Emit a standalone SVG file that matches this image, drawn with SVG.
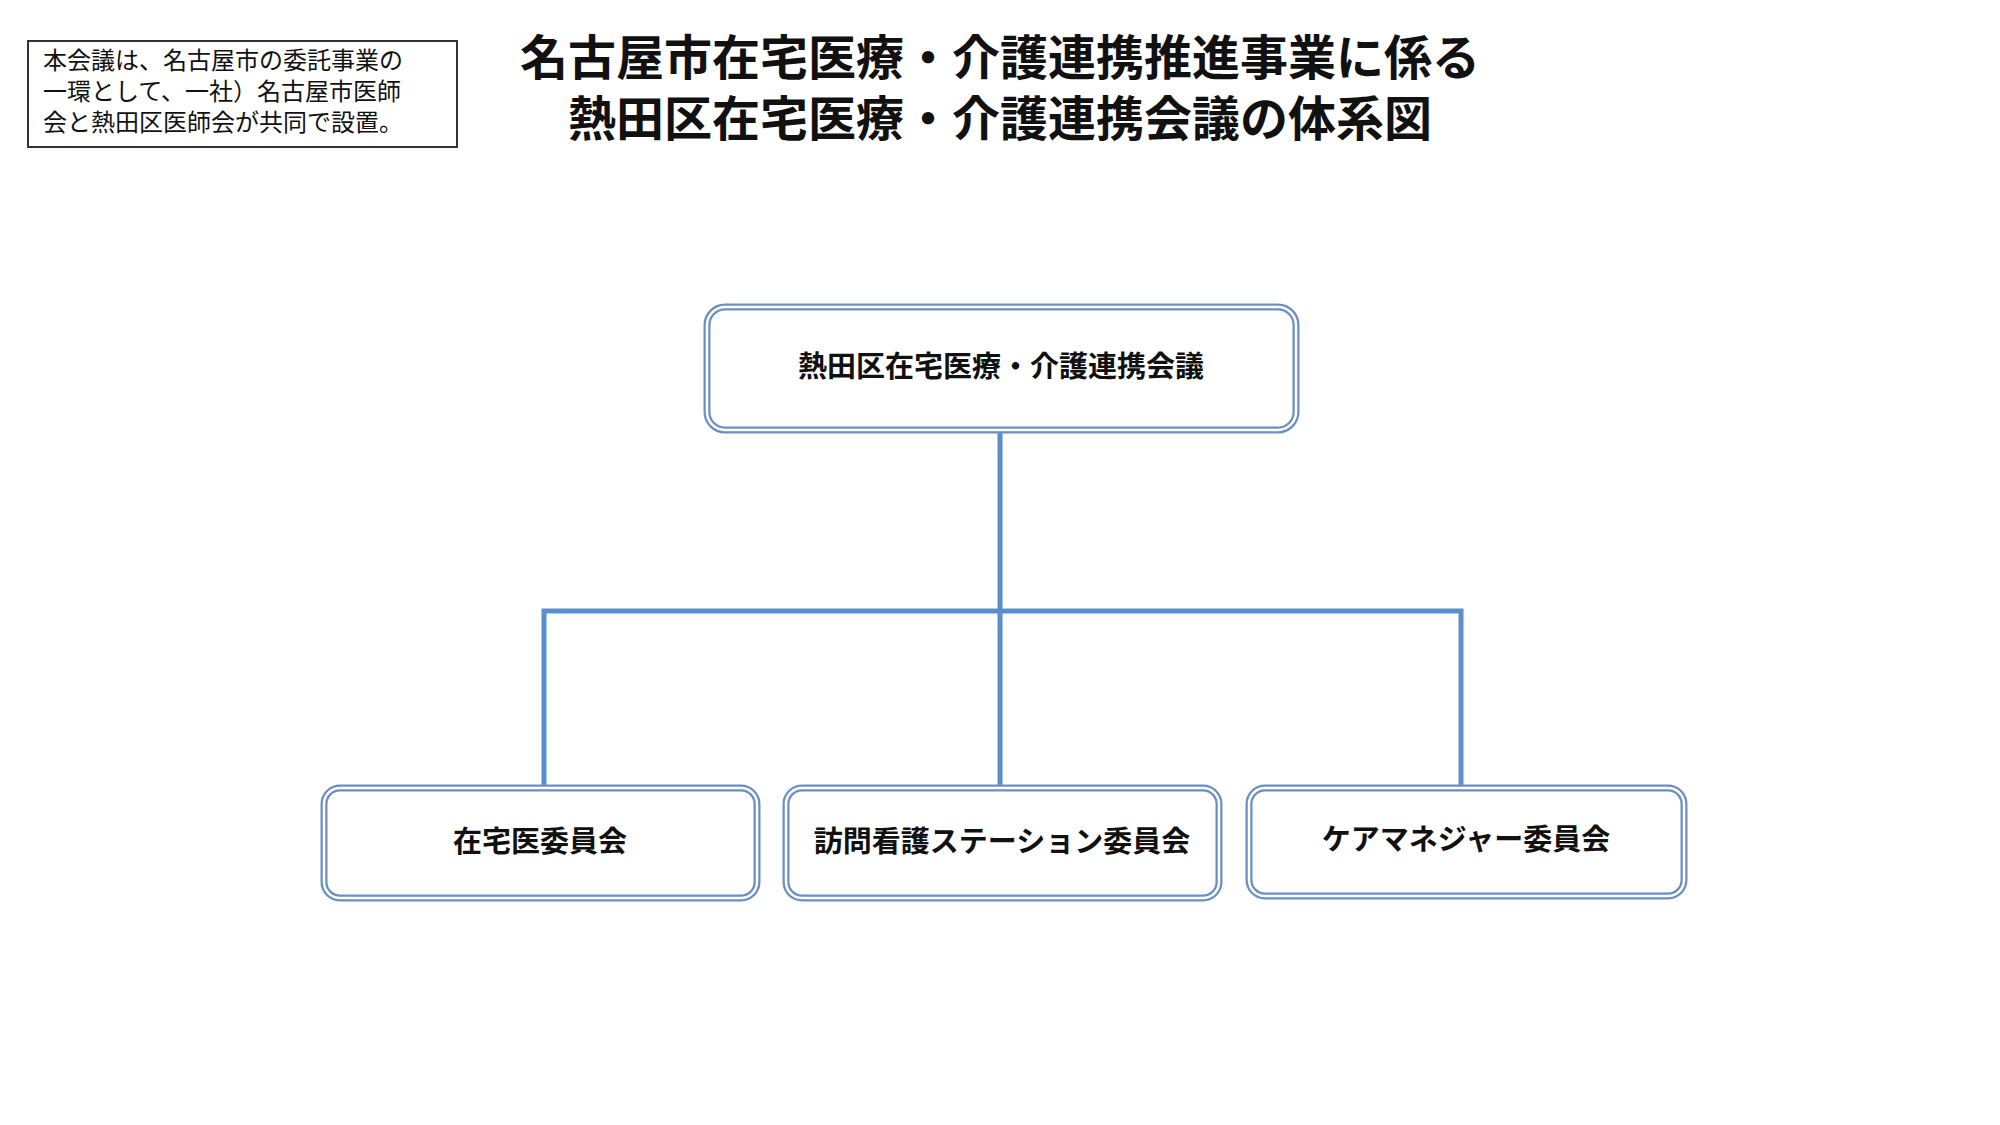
<svg xmlns="http://www.w3.org/2000/svg" width="2000" height="1125" viewBox="0 0 2000 1125">
<style>
.t{font-family:"Noto Sans CJK JP","Noto Sans CJK SC",sans-serif;fill:#111}
.n{font-size:29px;font-weight:bold;text-anchor:middle}
.o{fill:#fff;stroke:#6a8fc4;stroke-width:7}
.i{fill:none;stroke:#fff;stroke-width:2.5}
.c{fill:none;stroke:#5b8ecb;stroke-width:5}
</style>
<rect width="2000" height="1125" fill="#fff"/>
<g id="note"><rect x="28" y="41" width="429" height="106" fill="#fff" stroke="#333" stroke-width="2"/>
<text class="t" font-size="24"><tspan x="43" y="69">本会議は、名古屋市の委託事業の</tspan><tspan x="43" y="100">一環として、一社）名古屋市医師</tspan><tspan x="43" y="131">会と熱田区医師会が共同で設置。</tspan></text></g>
<g id="title"><text class="t" font-size="48" font-weight="bold" text-anchor="middle"><tspan x="1000" y="75">名古屋市在宅医療・介護連携推進事業に係る</tspan><tspan x="1000" y="136">熱田区在宅医療・介護連携会議の体系図</tspan></text></g>
<g id="connectors"><path class="c" d="M1000 430V611M544 785V611H1461V785M1000 611V785"/></g>
<g id="top"><rect class="o" x="707" y="307" width="589" height="123" rx="18"/><rect class="i" x="707" y="307" width="589" height="123" rx="18"/><text class="t n" x="1001" y="377" font-size="31">熱田区在宅医療・介護連携会議</text></g>
<g id="n1"><rect class="o" x="324" y="788" width="433" height="110" rx="16"/><rect class="i" x="324" y="788" width="433" height="110" rx="16"/><text class="t n" x="540" y="852">在宅医委員会</text></g>
<g id="n2"><rect class="o" x="786" y="788" width="433" height="110" rx="16"/><rect class="i" x="786" y="788" width="433" height="110" rx="16"/><text class="t n" x="1002" y="852">訪問看護ステーション委員会</text></g>
<g id="n3"><rect class="o" x="1249" y="788" width="435" height="108" rx="16"/><rect class="i" x="1249" y="788" width="435" height="108" rx="16"/><text class="t n" x="1466" y="850">ケアマネジャー委員会</text></g>
</svg>
